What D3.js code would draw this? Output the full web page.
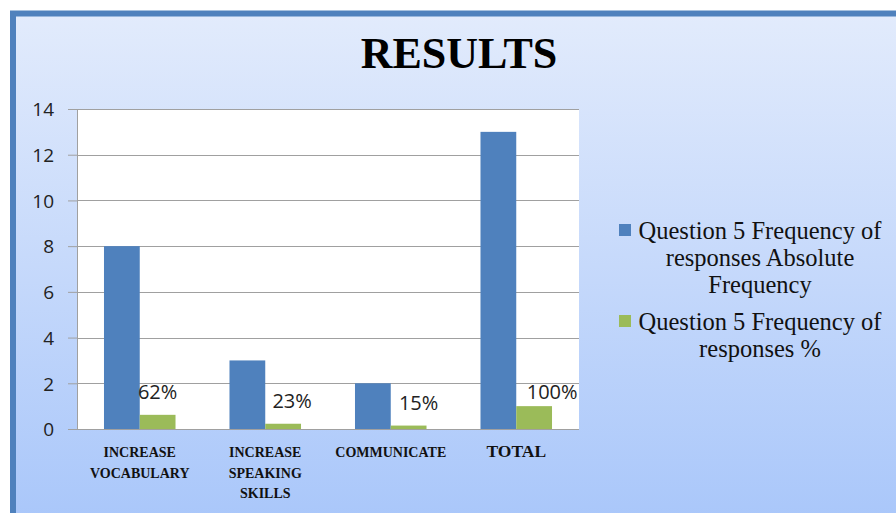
<!DOCTYPE html>
<html>
<head>
<meta charset="utf-8">
<script src="https://cdn.jsdelivr.net/npm/d3@7"></script>
<style>
  html, body { margin: 0; padding: 0; background: #fff; }
  svg { display: block; }
</style>
</head>
<body>
<svg id="chart" width="896" height="513"></svg>
<script>
const categories = [['INCREASE', 'VOCABULARY'], ['INCREASE', 'SPEAKING', 'SKILLS'], ['COMMUNICATE'], ['TOTAL']];
const absoluteFreq = [8, 3, 2, 13];
const percentFreq = [0.62, 0.23, 0.15, 1];
const percentLabels = ['62%', '23%', '15%', '100%'];
const yTicks = [0, 2, 4, 6, 8, 10, 12, 14];
const seriesNames = [
  ['Question 5 Frequency of', 'responses Absolute', 'Frequency'],
  ['Question 5 Frequency of', 'responses %']
];

const style = {
  blue: '#4f81bd',
  green: '#9bbb59',
  grid: '#a0a0a0',
  serif: '"Liberation Serif", "DejaVu Serif", serif',
  sans: '"Open Sans", "Liberation Sans", sans-serif'
};

const svg = d3.select('#chart');

// background gradient + frame
const defs = svg.append('defs');
const grad = defs.append('linearGradient').attr('id', 'bg').attr('x1', 0).attr('y1', 0).attr('x2', 0).attr('y2', 1);
grad.append('stop').attr('offset', '0%').attr('stop-color', '#e2ebfc');
grad.append('stop').attr('offset', '100%').attr('stop-color', '#a8c6fa');

svg.append('rect')
  .attr('x', 13).attr('y', 13.5)
  .attr('width', 900).attr('height', 520)
  .attr('fill', 'url(#bg)')
  .attr('stroke', style.blue)
  .attr('stroke-width', 6);

// title
svg.append('text')
  .attr('x', 459).attr('y', 68)
  .attr('text-anchor', 'middle')
  .style('font-family', style.serif)
  .style('font-weight', 'bold')
  .style('font-size', '44px')
  .attr('fill', '#000')
  .text('RESULTS');

const plot = { left: 77, right: 579, top: 109, bottom: 429 };

const xScale = d3.scaleBand()
  .domain(d3.range(categories.length))
  .range([plot.left, plot.right])
  .paddingInner(0.43)
  .paddingOuter(0.215);

const yScale = d3.scaleLinear()
  .domain([0, 14])
  .range([plot.bottom, plot.top]);

svg.append('rect')
  .attr('x', plot.left).attr('y', plot.top)
  .attr('width', plot.right - plot.left).attr('height', plot.bottom - plot.top)
  .attr('fill', '#fff');

// y axis with gridlines
const yAxis = d3.axisLeft(yScale).tickValues(yTicks).tickSize(9).tickPadding(14);
const yAxisSel = svg.append('g')
  .attr('transform', `translate(${plot.left}, 0)`)
  .call(yAxis);
yAxisSel.select('.domain').attr('stroke', style.grid).attr('d', `M0.5,${plot.top}V${plot.bottom}`);
yAxisSel.selectAll('.tick line').attr('stroke', style.grid);
yAxisSel.selectAll('.tick text')
  .attr('fill', '#222')
  .attr('dy', '0.36em')
  .style('font-family', style.sans)
  .style('font-size', '19px');

svg.append('g')
  .selectAll('line')
  .data(yTicks)
  .join('line')
  .attr('x1', plot.left).attr('x2', plot.right)
  .attr('y1', d => Math.round(yScale(d)) + 0.5)
  .attr('y2', d => Math.round(yScale(d)) + 0.5)
  .attr('stroke', style.grid);

const bw = xScale.bandwidth() / 2;

// bars
svg.append('g')
  .selectAll('rect')
  .data(absoluteFreq)
  .join('rect')
  .attr('x', (d, i) => xScale(i))
  .attr('y', d => yScale(d))
  .attr('width', bw)
  .attr('height', d => yScale(0) - yScale(d))
  .attr('fill', style.blue);

svg.append('g')
  .selectAll('rect')
  .data(percentFreq)
  .join('rect')
  .attr('x', (d, i) => xScale(i) + bw)
  .attr('y', d => yScale(d))
  .attr('width', bw)
  .attr('height', d => yScale(0) - yScale(d))
  .attr('fill', style.green);

// data labels
const labelShift = [0, 9, 10, 18];
svg.append('g')
  .selectAll('text')
  .data(percentFreq)
  .join('text')
  .attr('x', (d, i) => xScale(i) + bw * 1.5 + labelShift[i])
  .attr('y', (d, i) => yScale(d) - (i === 3 ? 7 : 16))
  .attr('text-anchor', 'middle')
  .style('font-family', style.sans)
  .style('font-size', '20px')
  .attr('fill', '#222')
  .text((d, i) => percentLabels[i]);

// category labels
const catG = svg.append('g');
categories.forEach((lines, i) => {
  const t = catG.append('text')
    .attr('x', xScale(i) + bw)
    .attr('y', 457)
    .attr('text-anchor', 'middle')
    .style('font-family', style.serif)
    .style('font-weight', 'bold')
    .style('font-size', i === 3 ? '17.5px' : '14px')
    .attr('fill', '#111');
  lines.forEach((l, j) => {
    t.append('tspan').attr('x', xScale(i) + bw).attr('dy', j === 0 ? 0 : 20.5).text(l);
  });
});

// legend
const legend = svg.append('g');
const legendColors = [style.blue, style.green];
const legendY = [239, 330];
seriesNames.forEach((lines, i) => {
  legend.append('rect')
    .attr('x', 619).attr('y', legendY[i] - 15)
    .attr('width', 12).attr('height', 12)
    .attr('fill', legendColors[i]);
  const t = legend.append('text')
    .attr('y', legendY[i])
    .attr('text-anchor', 'middle')
    .style('font-family', style.serif)
    .style('font-size', '24.5px')
    .attr('fill', '#111');
  lines.forEach((l, j) => {
    t.append('tspan').attr('x', 760).attr('dy', j === 0 ? 0 : 27).text(l);
  });
});
</script>
</body>
</html>
